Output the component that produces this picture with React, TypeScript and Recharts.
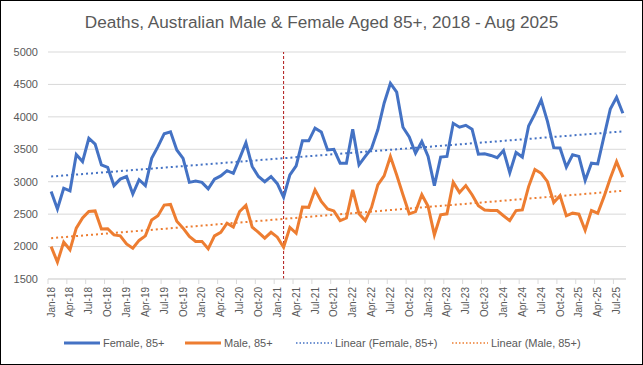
import React from "react";
import { LineChart, Line, XAxis, YAxis, CartesianGrid, ReferenceLine } from "recharts";

const monthNames = ["Jan", "Feb", "Mar", "Apr", "May", "Jun", "Jul", "Aug", "Sep", "Oct", "Nov", "Dec"];

// Jan-18 .. Aug-25
const months = Array.from({ length: 92 }, (_, i) => `${monthNames[i % 12]}-${18 + Math.floor(i / 12)}`);

const female = [
  2850, 2580, 2900, 2860, 3420, 3310, 3670, 3580, 3260, 3220, 2940, 3040,
  3080, 2810, 3030, 2940, 3360, 3540, 3740, 3770, 3490, 3360, 2990, 3010,
  2990, 2890, 3040, 3090, 3170, 3130, 3360, 3600, 3235, 3080, 3000, 3080,
  2970, 2760, 3105, 3245, 3630, 3630, 3825, 3765, 3490, 3500, 3285, 3285,
  3810, 3260, 3390, 3515, 3800, 4210, 4517, 4380, 3840, 3690, 3440, 3620,
  3390, 2940, 3380, 3390, 3900, 3840, 3870, 3810, 3425, 3430, 3405, 3370,
  3480, 3140, 3450, 3380, 3860, 4045, 4260, 3930, 3525, 3520, 3225, 3415,
  3390, 3020, 3285, 3275, 3700, 4120, 4300, 4055,
];

const male = [
  2000, 1760, 2070, 1950, 2285, 2440, 2540, 2550, 2270, 2275, 2180, 2165,
  2040, 1975, 2095, 2165, 2410, 2475, 2640, 2650, 2390, 2285, 2155, 2080,
  2080, 1965, 2165, 2220, 2360, 2300, 2540, 2635, 2300, 2220, 2130, 2220,
  2145, 1990, 2295, 2205, 2610, 2605, 2875, 2695, 2580, 2550, 2400, 2440,
  2875, 2505, 2400, 2605, 2950, 3090, 3390, 3105, 2800, 2505, 2540, 2800,
  2620, 2180, 2490, 2505, 2990, 2835, 2940, 2800, 2630, 2565, 2555, 2555,
  2475, 2400, 2555, 2565, 2925, 3190, 3130, 3000, 2680, 2785, 2475, 2515,
  2500, 2250, 2555, 2515, 2770, 3055, 3310, 3070,
];

// linear trend end points (first and last month)
const femaleTrend = [3080, 3775];
const maleTrend = [2130, 2860];

const yTicks = [1500, 2000, 2500, 3000, 3500, 4000, 4500, 5000];
const markerMonth = "Feb-21";

const last = months.length - 1;
const chartData = months.map((m, i) => ({
  month: m,
  female: female[i],
  male: male[i],
  femaleTrend: i === 0 ? femaleTrend[0] : i === last ? femaleTrend[1] : null,
  maleTrend: i === 0 ? maleTrend[0] : i === last ? maleTrend[1] : null,
}));

const BLUE = "#4472C4";
const ORANGE = "#ED7D31";
const GREY = "#595959";
const FONT = "'Liberation Sans', Arial, sans-serif";

const PLOT_W = 578;
const BAND = PLOT_W / months.length;

function MonthTick(props: any) {
  const { x, y, payload } = props;
  return (
    <g transform={`translate(${x},${y})`}>
      <line x1={-BAND / 2} x2={-BAND / 2} y1={0} y2={5} stroke="#d9d9d9" />
      <text
        transform="rotate(-90)"
        x={-8}
        y={0}
        dy="0.35em"
        textAnchor="end"
        fill={GREY}
        fontSize={10}
        fontFamily={FONT}
      >
        {payload.value}
      </text>
    </g>
  );
}

const legendItems = [
  { label: "Female, 85+", color: BLUE, dotted: false, left: 64 },
  { label: "Male, 85+", color: ORANGE, dotted: false, left: 185 },
  { label: "Linear (Female, 85+)", color: BLUE, dotted: true, left: 296 },
  { label: "Linear (Male, 85+)", color: ORANGE, dotted: true, left: 452 },
];

export default function App() {
  return (
    <div
      style={{
        position: "absolute",
        left: 0,
        top: 0,
        width: 643,
        height: 365,
        border: "1px solid #000",
        boxSizing: "border-box",
        background: "#fff",
        fontFamily: FONT,
      }}
    >
      <div style={{ position: "absolute", left: -1, top: -1, width: 643, height: 365 }}>
        <div
          style={{
            position: "absolute",
            top: 12,
            left: 0,
            width: 643,
            textAlign: "center",
            fontSize: 17.2,
            color: GREY,
            lineHeight: "20px",
          }}
        >
          Deaths, Australian Male &amp; Female Aged 85+, 2018 - Aug 2025
        </div>
        <LineChart
          width={643}
          height={365}
          data={chartData}
          margin={{ top: 52, right: 17, bottom: 0, left: 0 }}
        >
          <CartesianGrid vertical={false} stroke="#d9d9d9" />
          <XAxis
            dataKey="month"
            interval={2}
            height={86}
            padding={{ left: BAND / 2, right: BAND / 2 }}
            tickLine={false}
            tickSize={0}
            tickMargin={0}
            stroke="#d9d9d9"
            tick={<MonthTick />}
          />
          <YAxis
            domain={[1500, 5000]}
            ticks={yTicks}
            width={48}
            axisLine={false}
            tickLine={false}
            tickSize={0}
            tickMargin={10}
            tick={{ fill: GREY, fontSize: 11, fontFamily: FONT }}
          />
          <ReferenceLine x={markerMonth} stroke="#b01818" strokeDasharray="3 2" strokeWidth={1} />
          <Line
            dataKey="female"
            stroke={BLUE}
            strokeWidth={3}
            dot={false}
            isAnimationActive={false}
          />
          <Line
            dataKey="male"
            stroke={ORANGE}
            strokeWidth={3}
            dot={false}
            isAnimationActive={false}
          />
          <Line
            dataKey="femaleTrend"
            stroke={BLUE}
            strokeWidth={2}
            strokeDasharray="2 3"
            dot={false}
            connectNulls
            isAnimationActive={false}
          />
          <Line
            dataKey="maleTrend"
            stroke={ORANGE}
            strokeWidth={2}
            strokeDasharray="2 3"
            dot={false}
            connectNulls
            isAnimationActive={false}
          />
        </LineChart>
        {legendItems.map((item) => (
          <div
            key={item.label}
            style={{
              position: "absolute",
              top: 336,
              left: item.left,
              display: "flex",
              alignItems: "center",
              fontSize: 11,
              color: GREY,
              whiteSpace: "nowrap",
            }}
          >
            <svg width={36} height={14} style={{ marginRight: 3 }}>
              <line
                x1={0}
                x2={36}
                y1={7}
                y2={7}
                stroke={item.color}
                strokeWidth={item.dotted ? 1.5 : 3}
                strokeDasharray={item.dotted ? "1.5 2" : undefined}
              />
            </svg>
            {item.label}
          </div>
        ))}
      </div>
    </div>
  );
}
